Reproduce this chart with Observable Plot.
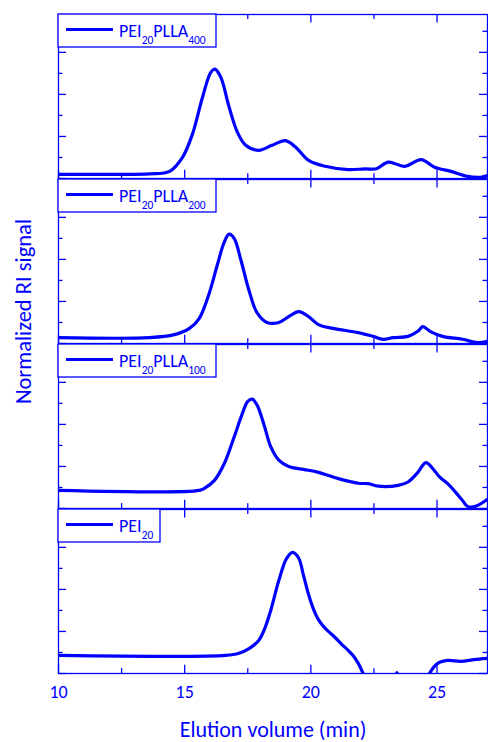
<!DOCTYPE html>
<html><head><meta charset="utf-8">
<script src="https://cdn.jsdelivr.net/npm/d3@7"></script>
<script src="https://cdn.jsdelivr.net/npm/@observablehq/plot@0.6"></script>
<style>
body{margin:0;background:#fff;}
</style></head><body><div id="chart"></div>
<script>
// ---- data ----
const panels = ["PEI20PLLA400", "PEI20PLLA200", "PEI20PLLA100", "PEI20"];
const legendParts = [
  [["PEI", 0], ["20", 1], ["PLLA", 0], ["400", 1]],
  [["PEI", 0], ["20", 1], ["PLLA", 0], ["200", 1]],
  [["PEI", 0], ["20", 1], ["PLLA", 0], ["100", 1]],
  [["PEI", 0], ["20", 1]]
];
const xTicksMajor = [10, 15, 20, 25];
const xTicksMinor = [12.5, 17.5, 22.5];
const yTicksMajor = [0, 1, 2, 3];
const yTicksMinor = [0.5, 1.5, 2.5, 3.5];
const xTickLabels = [10, 15, 20, 25];
const xTitle = "Elution volume (min)";
const yTitle = "Normalized RI signal";

const x400 = [10, 12, 13.61, 14.40, 14.92, 15.31, 15.71, 16.04, 16.20, 16.43, 16.76, 17.09, 17.42, 17.94, 18.46, 18.99, 19.39, 19.91, 20.57, 21.48, 22.14, 22.60, 23.06, 23.72, 24.37, 24.90, 25.55, 26.21, 26.73, 27];
const y400 = [0.10, 0.10, 0.11, 0.17, 0.51, 1.06, 1.94, 2.53, 2.60, 2.41, 1.70, 1.10, 0.79, 0.67, 0.79, 0.90, 0.75, 0.43, 0.29, 0.21, 0.23, 0.23, 0.39, 0.29, 0.45, 0.27, 0.17, 0.05, 0.03, 0.07];

const x200 = [10, 13.61, 14.59, 15.19, 15.58, 15.97, 16.29, 16.56, 16.76, 16.96, 17.23, 17.55, 17.86, 18.26, 18.73, 19.12, 19.52, 19.91, 20.30, 20.89, 21.88, 22.47, 22.86, 23.26, 23.85, 24.24, 24.44, 24.72, 25.22, 26.01, 26.60, 27];
const y200 = [0.14, 0.14, 0.21, 0.36, 0.60, 1.19, 1.86, 2.40, 2.60, 2.50, 1.98, 1.26, 0.74, 0.50, 0.50, 0.64, 0.76, 0.64, 0.45, 0.36, 0.26, 0.17, 0.10, 0.14, 0.17, 0.29, 0.40, 0.29, 0.17, 0.10, 0.02, 0.05];

const x100 = [10, 15.58, 15.78, 16.18, 16.57, 16.96, 17.28, 17.50, 17.68, 17.86, 18.14, 18.41, 18.73, 19.12, 19.71, 20.30, 21.09, 21.88, 22.27, 22.67, 23.46, 23.85, 24.24, 24.56, 24.83, 25.10, 25.42, 25.73, 26.01, 26.21, 26.52, 27];
const y100 = [0.43, 0.43, 0.48, 0.67, 1.07, 1.70, 2.25, 2.55, 2.60, 2.47, 2.00, 1.47, 1.15, 1.00, 0.93, 0.86, 0.71, 0.60, 0.59, 0.53, 0.55, 0.63, 0.86, 1.09, 0.95, 0.75, 0.59, 0.39, 0.19, 0.05, 0.05, 0.22];

const x20 = [10, 16.63, 17.15, 17.55, 17.94, 18.14, 18.41, 18.73, 19.04, 19.28, 19.52, 19.71, 19.91, 20.11, 20.30, 20.50, 20.70, 20.97, 21.21, 21.48, 21.68, 21.88, 22.07, 22.35, 22.8, 23.2, 23.41, 23.6, 24.0, 24.45, 24.70, 25.03, 25.42, 25.94, 26.47, 27];
const y20 = [0.43, 0.43, 0.48, 0.59, 0.79, 1.02, 1.50, 2.21, 2.74, 2.88, 2.74, 2.33, 1.88, 1.52, 1.28, 1.12, 1.00, 0.85, 0.70, 0.55, 0.42, 0.24, 0.00, -0.4, -0.7, -0.35, 0.02, -0.35, -0.7, -0.4, 0.00, 0.24, 0.31, 0.29, 0.33, 0.36];

// ---- layout / style ----
const BLUE = "#0000ff";
const FONT = "Carlito, Lato, sans-serif";
const W = 488, H = 742;
const ML = 58, MR = 1, MT = 14, MB = 69;
const GAP = 1.5;
const innerW = W - ML - MR;
const innerH = H - MT - MB;
const bandH = (innerH - GAP * (panels.length - 1)) / panels.length;
const step = bandH + GAP;
const padInner = GAP / step;
const legendW = [158, 158, 158, 102];

const series = [
  {panel: panels[0], xs: x400, ys: y400},
  {panel: panels[1], xs: x200, ys: y200},
  {panel: panels[2], xs: x100, ys: y100},
  {panel: panels[3], xs: x20, ys: y20}
];
const rows = series.flatMap(s => s.xs.map((xv, i) => ({panel: s.panel, x: xv, y: s.ys[i]})));
const lastPanel = panels[panels.length - 1];

const chart = Plot.plot({
  width: W, height: H,
  marginLeft: ML, marginRight: MR, marginTop: MT, marginBottom: MB,
  style: {fontFamily: FONT, color: BLUE, background: "white", overflow: "visible"},
  x: {domain: [10, 27], axis: null},
  y: {domain: [0, 3.9], axis: null},
  fy: {domain: panels, axis: null, paddingInner: padInner, paddingOuter: 0, label: null},
  marks: [
    Plot.frame({stroke: BLUE, strokeWidth: 1.3}),
    Plot.tickY(yTicksMajor, {y: d => d, insetRight: innerW - 8, stroke: BLUE, strokeWidth: 1.3}),
    Plot.tickY(yTicksMinor, {y: d => d, insetRight: innerW - 4.5, stroke: BLUE, strokeWidth: 1.3}),
    Plot.tickY(yTicksMajor, {y: d => d, insetLeft: innerW - 8, stroke: BLUE, strokeWidth: 1.3}),
    Plot.tickY(yTicksMinor, {y: d => d, insetLeft: innerW - 4.5, stroke: BLUE, strokeWidth: 1.3}),
    Plot.tickX(xTicksMajor, {x: d => d, insetTop: bandH - 8, stroke: BLUE, strokeWidth: 1.3}),
    Plot.tickX(xTicksMinor, {x: d => d, insetTop: bandH - 4.5, stroke: BLUE, strokeWidth: 1.3}),
    Plot.tickX(xTicksMajor, {x: d => d, insetBottom: bandH - 8, stroke: BLUE, strokeWidth: 1.3}),
    Plot.tickX(xTicksMinor, {x: d => d, insetBottom: bandH - 4.5, stroke: BLUE, strokeWidth: 1.3}),
    Plot.line(rows, {x: "x", y: "y", fy: "panel", z: "panel", curve: "catmull-rom", stroke: BLUE, strokeWidth: 3.2, clip: true}),
    Plot.text(xTickLabels, {x: d => d, fy: () => lastPanel, frameAnchor: "bottom", lineAnchor: "top", dy: 12, fontSize: 18, fill: BLUE}),
    Plot.text([xTitle], {fy: () => lastPanel, frameAnchor: "bottom", lineAnchor: "top", dy: 48, fontSize: 22, fill: BLUE, text: d => d}),
    Plot.text([yTitle], {fy: () => panels[1], frameAnchor: "left", dx: -35, dy: 50, rotate: -90, textAnchor: "middle", lineAnchor: "middle", fontSize: 22.5, fill: BLUE, text: d => d})
  ]
});

document.getElementById("chart").appendChild(chart);

// legends with sub-scripts
const fyScale = chart.scale("fy");
const svg = d3.select(chart);
panels.forEach((p, i) => {
  const top = (fyScale && fyScale.apply) ? fyScale.apply(p) : MT + i * step;
  const g = svg.append("g").attr("class", "legend");
  g.append("rect").attr("x", ML).attr("y", top).attr("width", legendW[i]).attr("height", 33)
    .attr("fill", "white").attr("stroke", BLUE).attr("stroke-width", 1.3);
  g.append("line").attr("x1", ML + 8).attr("x2", ML + 55).attr("y1", top + 15.5).attr("y2", top + 15.5)
    .attr("stroke", BLUE).attr("stroke-width", 3);
  const t = g.append("text").attr("x", ML + 61).attr("y", top + 22.5).attr("fill", BLUE)
    .attr("text-anchor", "start")
    .style("font-family", FONT).style("font-size", "18px");
  let shifted = false;
  legendParts[i].forEach(([s, sub]) => {
    const ts = t.append("tspan").text(s);
    if (sub) { ts.attr("dy", 7.5).style("font-size", "11.5px"); shifted = true; }
    else if (shifted) { ts.attr("dy", -7.5); shifted = false; }
  });
});
</script>
</body></html>
